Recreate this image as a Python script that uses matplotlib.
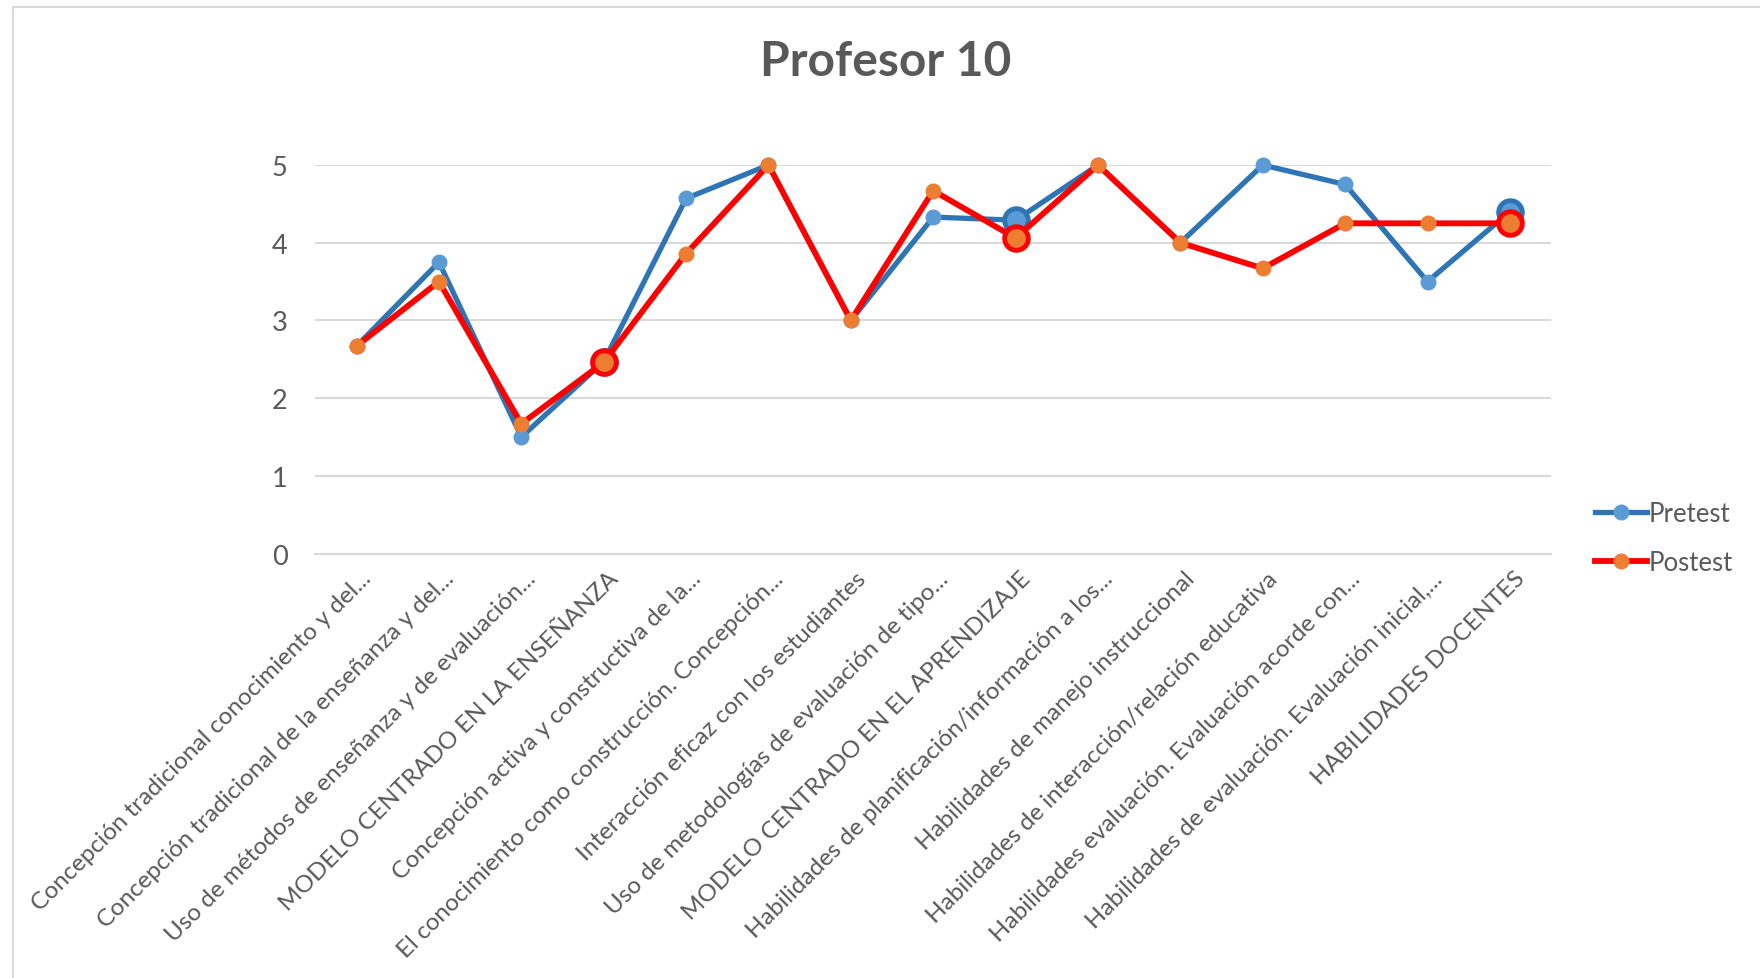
import matplotlib.pyplot as plt
from matplotlib.patches import Rectangle
from matplotlib.transforms import ScaledTranslation
import numpy as np

plt.rcParams['font.family'] = ['Lato', 'DejaVu Sans']

labels = [
    'Concepción tradicional conocimiento y del...',
    'Concepción tradicional de la enseñanza y del...',
    'Uso de métodos de enseñanza y de evaluación...',
    'MODELO CENTRADO EN LA ENSEÑANZA',
    'Concepción activa y constructiva de la...',
    'El conocimiento como construcción. Concepción...',
    'Interacción eficaz con los estudiantes',
    'Uso de metodologías de evaluación de tipo...',
    'MODELO CENTRADO EN EL APRENDIZAJE',
    'Habilidades de planificación/información a los...',
    'Habilidades de manejo instruccional',
    'Habilidades de interacción/relación educativa',
    'Habilidades evaluación. Evaluación acorde con...',
    'Habilidades de evaluación. Evaluación inicial,...',
    'HABILIDADES DOCENTES',
]
pretest = [2.67, 3.75, 1.5, 2.47, 4.57, 5.0, 3.0, 4.33, 4.29, 5.0, 4.0, 5.0, 4.75, 3.5, 4.4]
postest = [2.67, 3.5, 1.67, 2.46, 3.86, 5.0, 3.0, 4.67, 4.06, 5.0, 4.0, 3.67, 4.25, 4.25, 4.25]
resumen = [3, 8, 14]  # categorias de resumen (marcador grande)

gris = '#595959'
x = np.arange(len(labels))

fig = plt.figure(figsize=(17.6, 9.79), dpi=100)
ax = fig.add_axes([0.1792, 0.4336, 0.7021, 0.3968])

# marco del grafico
fig.patches.append(Rectangle((13 / 1760, -0.1), 1.2, 1 - 8 / 979 + 0.1,
                             transform=fig.transFigure, fill=False,
                             edgecolor='#D9D9D9', lw=1.5, zorder=0))

ax.plot(x, pretest, '-o', color='#2E75B6', lw=3.8, ms=10.5,
        mfc='#5B9BD5', mec='#5B9BD5', label='Pretest', zorder=3, clip_on=False)
ax.plot(x, postest, '-o', color='#FF0000', lw=4.2, ms=10.5,
        mfc='#ED7D31', mec='#ED7D31', label='Postest', zorder=4, clip_on=False)
ax.plot(x[resumen], np.array(pretest)[resumen], 'o', ms=17, mfc='#5B9BD5',
        mec='#2E75B6', mew=3.5, zorder=3.5, clip_on=False)
ax.plot(x[resumen], np.array(postest)[resumen], 'o', ms=17, mfc='#ED7D31',
        mec='#FF0000', mew=3.5, zorder=4.5, clip_on=False)

ax.set_xlim(-0.5, len(labels) - 0.5)
ax.set_ylim(0, 5)
ax.set_yticks(range(6))
ax.grid(axis='y', color='#D9D9D9', lw=1.5)
ax.set_axisbelow(True)
for s in ['top', 'right', 'left']:
    ax.spines[s].set_visible(False)
ax.spines['bottom'].set_color('#D9D9D9')
ax.spines['bottom'].set_linewidth(1.5)
ax.tick_params(axis='both', length=0, colors=gris, labelsize=17.5)
ax.tick_params(axis='y', labelsize=19.5, pad=20)

# etiquetas en diagonal, corridas un poco a la derecha
ax.set_xticks(x)
ax.set_xticklabels(labels, rotation=45, ha='right', va='top',
                   rotation_mode='anchor')
ax.tick_params(axis='x', pad=10)
offset = ScaledTranslation(4 / 100, 0, fig.dpi_scale_trans)
for t in ax.get_xticklabels():
    t.set_transform(t.get_transform() + offset)

fig.text(886 / 1760, 1 - 62 / 979, 'Profesor 10', fontsize=34.5,
         fontweight='bold', color=gris, ha='center', va='center')

fig.legend(loc='center left', bbox_to_anchor=(1572 / 1760, 1 - 539 / 979),
           frameon=False, fontsize=18.5, labelcolor=gris, handlelength=2.0,
           handletextpad=0.1, labelspacing=0.95)

fig.savefig('out.png', dpi=100)
